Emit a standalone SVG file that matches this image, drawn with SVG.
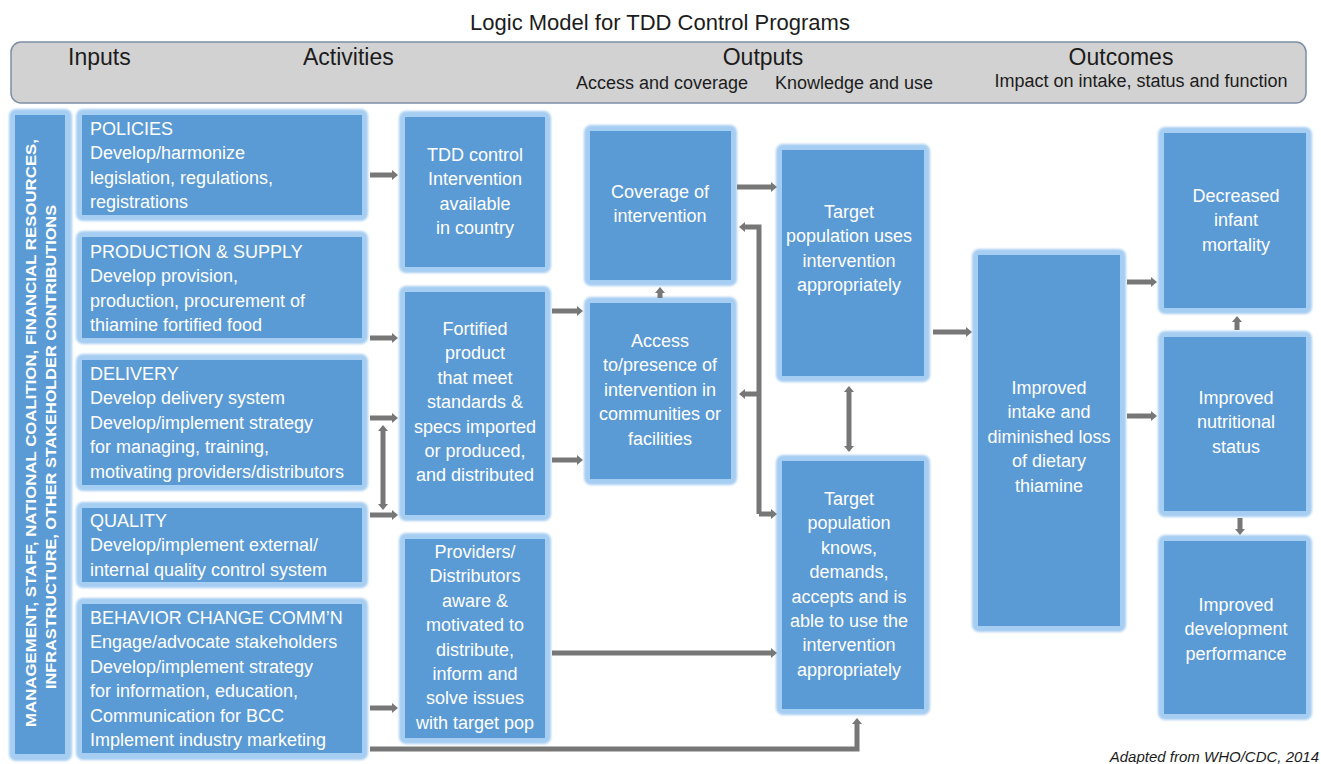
<svg xmlns="http://www.w3.org/2000/svg" width="1321" height="764" viewBox="0 0 1321 764">
  <defs>
    <style>
      .halo { fill: #a6cdf2; }
      .box { fill: #5b9bd5; }
      .t { font-family: "Liberation Sans", Arial, sans-serif; font-size: 18px; fill: #ffffff; }
      .c { text-anchor: middle; }
      .hd { font-family: "Liberation Sans", Arial, sans-serif; fill: #1c1c1c; }
      .side { font-family: "Liberation Sans", Arial, sans-serif; font-size: 15px; font-weight: bold; fill: #ffffff; text-anchor: middle; }
      .conn { fill: none; stroke: #777777; stroke-width: 5; }
    </style>
    <filter id="soft" x="-5%" y="-5%" width="110%" height="110%">
      <feGaussianBlur stdDeviation="1.2"/>
    </filter>
    <marker id="head" viewBox="0 0 6 10" refX="0" refY="5" markerWidth="6" markerHeight="10" markerUnits="userSpaceOnUse" orient="auto-start-reverse">
      <path d="M0,0 L6,5 L0,10 z" fill="#777777"/>
    </marker>
  </defs>

  <!-- title -->
  <text class="hd" x="660" y="30" font-size="22" text-anchor="middle">Logic Model for TDD Control Programs</text>

  <!-- column header band -->
  <g id="header">
    <rect x="11" y="42" width="1295" height="61" rx="10" fill="#d2d2d2" stroke="#7d8ea6" stroke-width="1.5"/>
    <text class="hd" x="68" y="65" font-size="23">Inputs</text>
    <text class="hd" x="303" y="65" font-size="23">Activities</text>
    <text class="hd" x="763" y="65" font-size="23" text-anchor="middle">Outputs</text>
    <text class="hd" x="1121" y="65" font-size="23" text-anchor="middle">Outcomes</text>
    <text class="hd" x="662" y="89" font-size="18" text-anchor="middle">Access and coverage</text>
    <text class="hd" x="854" y="89" font-size="18" text-anchor="middle">Knowledge and use</text>
    <text class="hd" x="1141" y="87" font-size="18" text-anchor="middle">Impact on intake, status and function</text>
  </g>

  <!-- resources bar -->
  <g id="resources">
    <rect class="halo" x="9" y="109" width="63" height="652" rx="7" filter="url(#soft)"/>
    <rect class="box" x="15" y="115" width="50" height="639"/>
    <text class="side" transform="translate(36,433) rotate(-90)" textLength="588" lengthAdjust="spacingAndGlyphs">MANAGEMENT, STAFF, NATIONAL COALITION, FINANCIAL RESOURCES,</text>
    <text class="side" transform="translate(56,447) rotate(-90)" textLength="484" lengthAdjust="spacingAndGlyphs">INFRASTRUCTURE, OTHER STAKEHOLDER CONTRIBUTIONS</text>
  </g>

  <!-- inputs -->
  <g id="policies">
    <rect class="halo" x="76" y="109" width="292" height="112" rx="7" filter="url(#soft)"/>
    <rect class="box" x="82" y="115" width="280" height="100"/>
    <text class="t" x="90" y="135">POLICIES<tspan x="90" dy="24.4">Develop/harmonize</tspan><tspan x="90" dy="24.4">legislation, regulations,</tspan><tspan x="90" dy="24.4">registrations</tspan></text>
  </g>
  <g id="production">
    <rect class="halo" x="76" y="231" width="292" height="113" rx="7" filter="url(#soft)"/>
    <rect class="box" x="82" y="237" width="280" height="101"/>
    <text class="t" x="90" y="258">PRODUCTION &amp; SUPPLY<tspan x="90" dy="24.4">Develop provision,</tspan><tspan x="90" dy="24.4">production, procurement of</tspan><tspan x="90" dy="24.4">thiamine fortified food</tspan></text>
  </g>
  <g id="delivery">
    <rect class="halo" x="76" y="354" width="292" height="137" rx="7" filter="url(#soft)"/>
    <rect class="box" x="82" y="360" width="280" height="125"/>
    <text class="t" x="90" y="380">DELIVERY<tspan x="90" dy="24.4">Develop delivery system</tspan><tspan x="90" dy="24.4">Develop/implement strategy</tspan><tspan x="90" dy="24.4">for managing, training,</tspan><tspan x="90" dy="24.4">motivating providers/distributors</tspan></text>
  </g>
  <g id="quality">
    <rect class="halo" x="76" y="502" width="292" height="86" rx="7" filter="url(#soft)"/>
    <rect class="box" x="82" y="508" width="280" height="74"/>
    <text class="t" x="90" y="527">QUALITY<tspan x="90" dy="24.4">Develop/implement external/</tspan><tspan x="90" dy="24.4">internal quality control system</tspan></text>
  </g>
  <g id="behavior">
    <rect class="halo" x="76" y="598" width="292" height="162" rx="7" filter="url(#soft)"/>
    <rect class="box" x="82" y="604" width="280" height="149"/>
    <text class="t" x="90" y="624">BEHAVIOR CHANGE COMM’N<tspan x="90" dy="24.4">Engage/advocate stakeholders</tspan><tspan x="90" dy="24.4">Develop/implement strategy</tspan><tspan x="90" dy="24.4">for information, education,</tspan><tspan x="90" dy="24.4">Communication for BCC</tspan><tspan x="90" dy="24.4">Implement industry marketing</tspan></text>
  </g>

  <!-- activities -->
  <g id="tdd-available">
    <rect class="halo" x="399" y="111" width="152" height="162" rx="7" filter="url(#soft)"/>
    <rect class="box" x="405" y="117" width="140" height="150"/>
    <text class="t c" x="475" y="161">TDD control<tspan x="475" dy="24.4">Intervention</tspan><tspan x="475" dy="24.4">available</tspan><tspan x="475" dy="24.4">in country</tspan></text>
  </g>
  <g id="fortified">
    <rect class="halo" x="399" y="286" width="152" height="235" rx="7" filter="url(#soft)"/>
    <rect class="box" x="405" y="292" width="140" height="223"/>
    <text class="t c" x="475" y="335">Fortified<tspan x="475" dy="24.4">product</tspan><tspan x="475" dy="24.4">that meet</tspan><tspan x="475" dy="24.4">standards &amp;</tspan><tspan x="475" dy="24.4">specs imported</tspan><tspan x="475" dy="24.4">or produced,</tspan><tspan x="475" dy="24.4">and distributed</tspan></text>
  </g>
  <g id="providers">
    <rect class="halo" x="399" y="533" width="152" height="211" rx="7" filter="url(#soft)"/>
    <rect class="box" x="405" y="539" width="140" height="199"/>
    <text class="t c" x="475" y="558">Providers/<tspan x="475" dy="24.4">Distributors</tspan><tspan x="475" dy="24.4">aware &amp;</tspan><tspan x="475" dy="24.4">motivated to</tspan><tspan x="475" dy="24.4">distribute,</tspan><tspan x="475" dy="24.4">inform and</tspan><tspan x="475" dy="24.4">solve issues</tspan><tspan x="475" dy="24.4">with target pop</tspan></text>
  </g>

  <!-- outputs: access and coverage -->
  <g id="coverage">
    <rect class="halo" x="584" y="125" width="153" height="161" rx="7" filter="url(#soft)"/>
    <rect class="box" x="590" y="131" width="141" height="149"/>
    <text class="t c" x="660" y="198">Coverage of<tspan x="660" dy="24.4">intervention</tspan></text>
  </g>
  <g id="access">
    <rect class="halo" x="584" y="297" width="153" height="188" rx="7" filter="url(#soft)"/>
    <rect class="box" x="590" y="303" width="141" height="176"/>
    <text class="t c" x="660" y="347">Access<tspan x="660" dy="24.4">to/presence of</tspan><tspan x="660" dy="24.4">intervention in</tspan><tspan x="660" dy="24.4">communities or</tspan><tspan x="660" dy="24.4">facilities</tspan></text>
  </g>

  <!-- outputs: knowledge and use -->
  <g id="target-uses">
    <rect class="halo" x="776" y="144" width="154" height="238" rx="7" filter="url(#soft)"/>
    <rect class="box" x="782" y="150" width="142" height="226"/>
    <text class="t c" x="849" y="218">Target<tspan x="849" dy="24.4">population uses</tspan><tspan x="849" dy="24.4">intervention</tspan><tspan x="849" dy="24.4">appropriately</tspan></text>
  </g>
  <g id="target-knows">
    <rect class="halo" x="776" y="455" width="154" height="260" rx="7" filter="url(#soft)"/>
    <rect class="box" x="782" y="461" width="142" height="248"/>
    <text class="t c" x="849" y="505">Target<tspan x="849" dy="24.4">population</tspan><tspan x="849" dy="24.4">knows,</tspan><tspan x="849" dy="24.4">demands,</tspan><tspan x="849" dy="24.4">accepts and is</tspan><tspan x="849" dy="24.4">able to use the</tspan><tspan x="849" dy="24.4">intervention</tspan><tspan x="849" dy="24.4">appropriately</tspan></text>
  </g>

  <!-- outcomes -->
  <g id="intake">
    <rect class="halo" x="972" y="249" width="154" height="383" rx="7" filter="url(#soft)"/>
    <rect class="box" x="978" y="255" width="142" height="371"/>
    <text class="t c" x="1049" y="394">Improved<tspan x="1049" dy="24.4">intake and</tspan><tspan x="1049" dy="24.4">diminished loss</tspan><tspan x="1049" dy="24.4">of dietary</tspan><tspan x="1049" dy="24.4">thiamine</tspan></text>
  </g>
  <g id="mortality">
    <rect class="halo" x="1158" y="127" width="154" height="187" rx="7" filter="url(#soft)"/>
    <rect class="box" x="1164" y="133" width="142" height="175"/>
    <text class="t c" x="1236" y="202">Decreased<tspan x="1236" dy="24.4">infant</tspan><tspan x="1236" dy="24.4">mortality</tspan></text>
  </g>
  <g id="nutritional">
    <rect class="halo" x="1158" y="331" width="154" height="186" rx="7" filter="url(#soft)"/>
    <rect class="box" x="1164" y="337" width="142" height="174"/>
    <text class="t c" x="1236" y="404">Improved<tspan x="1236" dy="24.4">nutritional</tspan><tspan x="1236" dy="24.4">status</tspan></text>
  </g>
  <g id="development">
    <rect class="halo" x="1158" y="535" width="154" height="185" rx="7" filter="url(#soft)"/>
    <rect class="box" x="1164" y="541" width="142" height="173"/>
    <text class="t c" x="1236" y="611">Improved<tspan x="1236" dy="24.4">development</tspan><tspan x="1236" dy="24.4">performance</tspan></text>
  </g>

  <!-- connectors -->
  <g id="connectors">
    <path class="conn" d="M370,175 H392" marker-end="url(#head)"/>
    <path class="conn" d="M370,338 H392" marker-end="url(#head)"/>
    <path class="conn" d="M370,418 H392" marker-end="url(#head)"/>
    <path class="conn" d="M370,515 H392" marker-end="url(#head)"/>
    <path class="conn" d="M383,431 V504" marker-start="url(#head)" marker-end="url(#head)"/>
    <path class="conn" d="M370,708 H392" marker-end="url(#head)"/>
    <path class="conn" d="M370,749 H857 V724" marker-end="url(#head)"/>
    <path class="conn" d="M552,311 H577" marker-end="url(#head)"/>
    <path class="conn" d="M552,460 H577" marker-end="url(#head)"/>
    <path class="conn" d="M660,298 V293" marker-end="url(#head)"/>
    <path class="conn" d="M737,187 H771" marker-end="url(#head)"/>
    <path class="conn" d="M759,514 V227 H745" marker-end="url(#head)"/>
    <path class="conn" d="M759,394 H745" marker-end="url(#head)"/>
    <path class="conn" d="M759,514 H771" marker-end="url(#head)"/>
    <path class="conn" d="M849,392 V446" marker-start="url(#head)" marker-end="url(#head)"/>
    <path class="conn" d="M552,653 H771" marker-end="url(#head)"/>
    <path class="conn" d="M933,332 H966" marker-end="url(#head)"/>
    <path class="conn" d="M1127,282 H1151" marker-end="url(#head)"/>
    <path class="conn" d="M1127,416 H1151" marker-end="url(#head)"/>
    <path class="conn" d="M1237,330 V322" marker-end="url(#head)"/>
    <path class="conn" d="M1240,518 V529" marker-end="url(#head)"/>
  </g>

  <text x="1319" y="762" font-family="Liberation Sans, Arial, sans-serif" font-size="15" font-style="italic" fill="#1c1c1c" text-anchor="end">Adapted from WHO/CDC, 2014</text>
</svg>
